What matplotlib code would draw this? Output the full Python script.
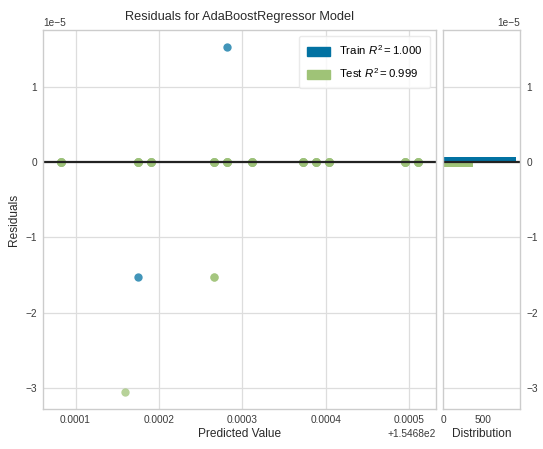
import matplotlib
matplotlib.use("Agg")
import matplotlib.pyplot as plt
from matplotlib.patches import Patch
from matplotlib.ticker import MaxNLocator

plt.rcParams["font.family"] = ["Liberation Sans", "DejaVu Sans"]
plt.rcParams["mathtext.fontset"] = "custom"
plt.rcParams["mathtext.rm"] = "Liberation Sans"
plt.rcParams["mathtext.it"] = "Liberation Sans:italic"
plt.rcParams["axes.unicode_minus"] = True

train_color = "#0272a2"
test_color = "#9fc377"

# distinct predicted values on the zero line (offset by 154.68 on the axis)
zero_pred = [154.6800824, 154.680175, 154.680190, 154.6802656, 154.6802812,
             154.6803123, 154.6803734, 154.680389, 154.6804045, 154.6804955,
             154.6805111]

# train samples off the zero line
train_pred = [154.6802812, 154.680175]
train_resid = [1.526e-5, -1.526e-5]

# test samples off the zero line
test_pred = [154.6802656, 154.6802656, 154.680159]
test_resid = [-1.526e-5, -1.526e-5, -3.052e-5]

# residual distribution (value, number of samples)
train_hist_vals = [0, 1.526e-5, -1.526e-5]
train_hist_counts = [920, 1, 1]
test_hist_vals = [0, -1.526e-5, -3.052e-5]
test_hist_counts = [379, 2, 1]

train_r2 = 1.000
test_r2 = 0.999

fig = plt.figure(figsize=(5.43, 4.49), dpi=100)
ax = fig.add_axes([0.0792, 0.0891, 0.7238, 0.8441])
hax = fig.add_axes([0.8158, 0.0891, 0.1418, 0.8441], sharey=ax)

for a in (ax, hax):
    a.set_facecolor("white")
    for s in a.spines.values():
        s.set_color("#cccccc")
        s.set_linewidth(1.0)
    a.tick_params(length=0, labelsize=7.3, colors="#3a3a3a", pad=4.5)
    a.set_axisbelow(True)

# many samples sit exactly on the zero line, the test ones are drawn last
n_stack = 3
ax.scatter(zero_pred, [0] * len(zero_pred), c=train_color, alpha=0.75, linewidths=0)
ax.scatter(train_pred, train_resid, c=train_color, alpha=0.75, linewidths=0)
ax.scatter(zero_pred * n_stack, [0] * len(zero_pred) * n_stack,
           c=test_color, alpha=0.75, linewidths=0, s=40)
ax.scatter(test_pred, test_resid, c=test_color, alpha=0.75, linewidths=0)
ax.axhline(0, color="#222222", lw=1.6)
ax.grid(True, color="#dddddd", lw=0.9)

ax.set_title("Residuals for AdaBoostRegressor Model", fontsize=9.2, color="#2a2a2a", pad=7)
ax.set_xlabel("Predicted Value", fontsize=8.6, color="#2a2a2a", labelpad=2)
ax.set_ylabel("Residuals", fontsize=8.6, color="#2a2a2a", labelpad=4)
for t in (ax.xaxis.get_offset_text(), ax.yaxis.get_offset_text()):
    t.set_fontsize(7.3)
    t.set_color("#3a3a3a")

handles = [Patch(color=train_color), Patch(color=test_color)]
labels = [r"Train $R^2 = %.3f$" % train_r2, r"Test $R^2 = %.3f$" % test_r2]
ax.legend(handles, labels, loc="upper right", fontsize=8.2, frameon=True,
          framealpha=0.8, edgecolor="#e5e5e5", borderpad=0.7, labelspacing=0.8,
          handleheight=0.9)

hax.hist(train_hist_vals, weights=train_hist_counts, bins=50,
         orientation="horizontal", color=train_color)
hax.hist(test_hist_vals, weights=test_hist_counts, bins=50,
         orientation="horizontal", color=test_color)
hax.axhline(0, color="#222222", lw=1.6)
hax.grid(True, axis="y", color="#dddddd", lw=0.9)
hax.grid(False, axis="x")
hax.yaxis.tick_right()
hax.xaxis.set_major_locator(MaxNLocator(2))
hax.set_xlabel("Distribution", fontsize=8.6, color="#2a2a2a", labelpad=2)
hax.yaxis.get_offset_text().set_fontsize(7.3)
hax.yaxis.get_offset_text().set_color("#3a3a3a")

fig.savefig("out.png", dpi=100, facecolor="white")
